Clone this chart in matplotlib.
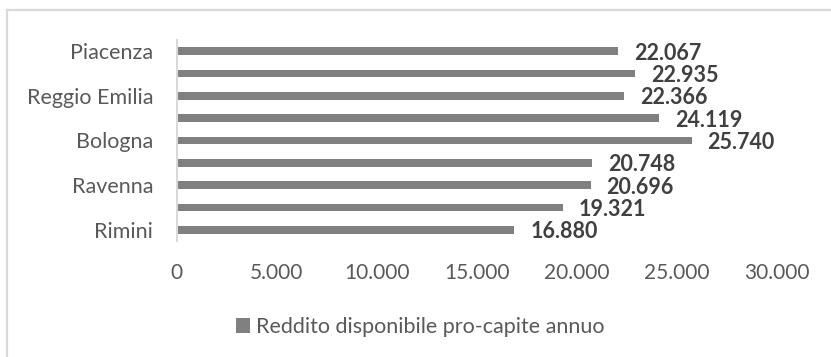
import matplotlib
matplotlib.use("Agg")
import matplotlib.pyplot as plt
from matplotlib.patches import Patch
from matplotlib.lines import Line2D

plt.rcParams["font.family"] = ["Lato", "DejaVu Sans"]

provinces = ["Piacenza", "Parma", "Reggio Emilia", "Modena", "Bologna",
             "Ferrara", "Ravenna", "Forlì-Cesena", "Rimini"]
reddito = [22067, 22935, 22366, 24119, 25740, 20748, 20696, 19321, 16880]
x_ticks = [0, 5000, 10000, 15000, 20000, 25000, 30000]
series_name = "Reddito disponibile pro-capite annuo"


def fmt_it(v):
    return f"{v:,.0f}".replace(",", ".")


W, H, DPI = 831, 357, 100
fig = plt.figure(figsize=(W / DPI, H / DPI), dpi=DPI)

bar_color = "#808080"
text_color = "#595959"
label_color = "#404040"
line_color = "#d9d9d9"

# chart frame (top and left edges)
fig.add_artist(Line2D([7 / W, 1.0], [1 - 10 / H, 1 - 10 / H],
                      transform=fig.transFigure, color=line_color, lw=1.6))
fig.add_artist(Line2D([7 / W, 7 / W], [1 - 10 / H, 0.0],
                      transform=fig.transFigure, color=line_color, lw=1.6))

left, right = 176.7 / W, 776.7 / W
top, bottom = 1 - 40 / H, 1 - 241 / H
ax = fig.add_axes([left, bottom, right - left, top - bottom])

ypos = list(range(len(provinces)))
ax.barh(ypos, reddito, height=0.33, color=bar_color, zorder=2)

for y, v in zip(ypos, reddito):
    ax.annotate(fmt_it(v), xy=(v, y), xytext=(11.5, -1.5),
                textcoords="offset points", ha="left", va="center",
                fontsize=15.5, fontweight="bold", color=label_color)

ax.set_xlim(0, 30000)
ax.set_ylim(len(provinces) - 0.5, -0.5)
ax.set_xticks(x_ticks)
ax.set_xticklabels([fmt_it(t) for t in x_ticks])
ax.set_yticks(ypos[::2])
ax.set_yticklabels(provinces[::2])

ax.tick_params(axis="x", length=0, pad=16, labelsize=15, labelcolor=text_color)
ax.tick_params(axis="y", length=0, pad=17, labelsize=15.5, labelcolor=text_color)

for side in ("top", "right", "bottom"):
    ax.spines[side].set_visible(False)
ax.spines["left"].set_color(line_color)
ax.spines["left"].set_linewidth(1.5)

fig.legend(handles=[Patch(facecolor=bar_color, label=series_name)],
           loc="center left", bbox_to_anchor=(236 / W, 1 - 327 / H),
           frameon=False, fontsize=15.5, labelcolor=text_color,
           handlelength=0.66, handleheight=0.66, handletextpad=0.25,
           borderpad=0, borderaxespad=0)

fig.savefig("out.png", dpi=DPI, facecolor="white")
